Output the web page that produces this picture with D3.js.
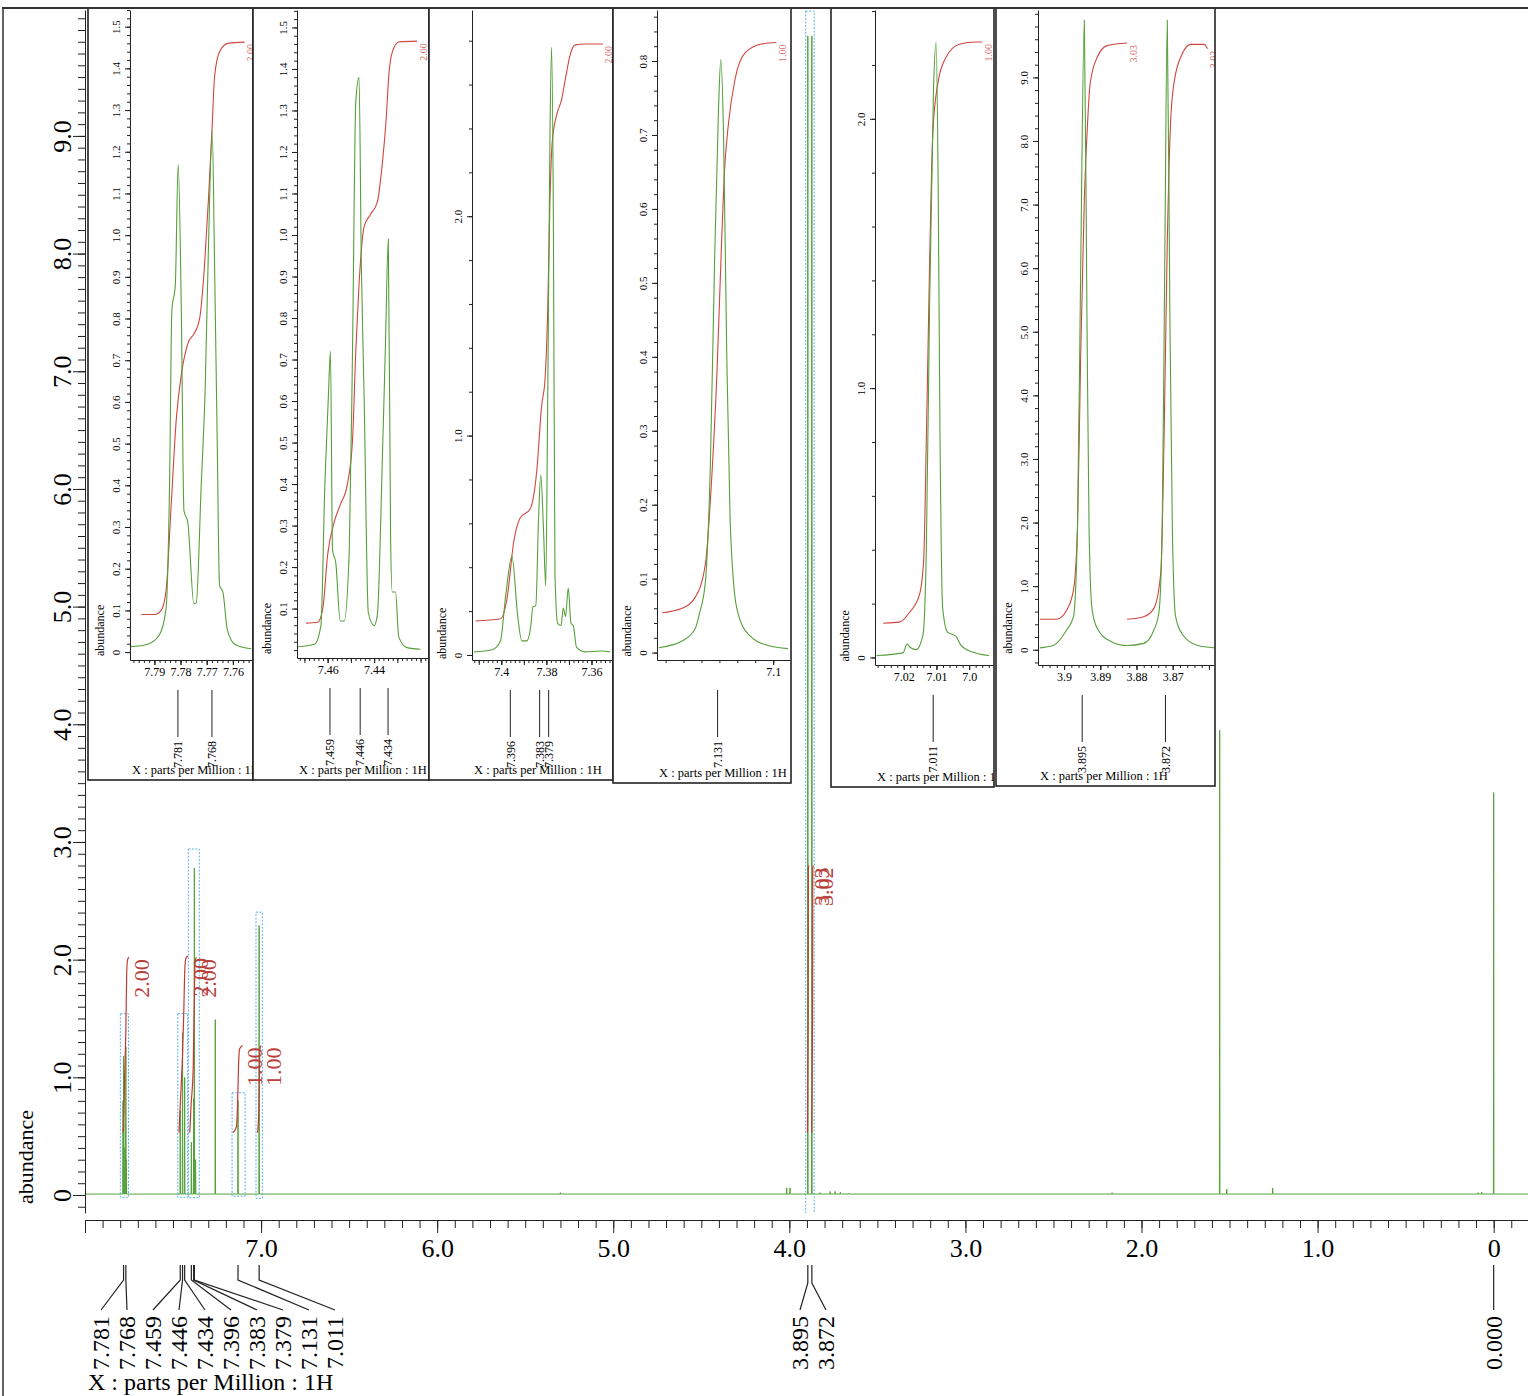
<!DOCTYPE html>
<html>
<head>
<meta charset="utf-8">
<script src="https://cdn.jsdelivr.net/npm/d3@7"></script>
<style>
  body { margin: 0; background: #fff; }
  svg text { font-family: "Liberation Serif", "Times New Roman", serif; }
</style>
</head>
<body>
<svg id="spektrum" width="1528" height="1396"></svg>
<script>
// ---- data ----

// main spectrum peaks: [ppm, abundance]
var mainPeaks = [
  [7.784, 0.80], [7.781, 1.18], [7.778, 0.40], [7.771, 0.60], [7.768, 1.26], [7.765, 0.30],
  [7.459, 0.72], [7.446, 1.38], [7.434, 1.00],
  [7.396, 0.45], [7.383, 0.82], [7.379, 2.78], [7.372, 0.30],
  [7.26, 1.49], [7.131, 0.80], [7.011, 2.29],
  [5.30, 0.02], [4.015, 0.06], [3.996, 0.06],
  [3.895, 9.85], [3.872, 9.85],
  [3.825, 0.02], [3.768, 0.03], [3.74, 0.03], [3.71, 0.025], [3.665, 0.015],
  [2.167, 0.02], [1.556, 3.95], [1.516, 0.05], [1.255, 0.06],
  [0.089, 0.02], [0.068, 0.025], [0.0, 3.42]
];

// main integral curves: [ppm, value]
var mainIntegrals = [
  [[7.785, 0.53], [7.78, 0.60], [7.775, 1.00], [7.768, 1.40], [7.763, 1.90], [7.758, 2.00], [7.75, 2.02]],
  [[7.466, 0.53], [7.458, 0.80], [7.446, 1.20], [7.44, 1.50], [7.432, 1.95], [7.425, 2.02], [7.415, 2.03]],
  [[7.405, 0.53], [7.398, 0.75], [7.385, 1.10], [7.379, 1.70], [7.375, 1.97], [7.368, 2.02]],
  [[7.16, 0.53], [7.14, 0.58], [7.133, 0.80], [7.128, 1.10], [7.122, 1.24], [7.105, 1.27]],
  [[7.02, 0.53], [7.013, 0.70], [7.01, 1.00], [7.007, 1.24], [7.0, 1.27]],
  [[3.897, 0.53], [3.893, 1.50], [3.892, 2.78], [3.889, 2.80]],
  [[3.873, 0.53], [3.868, 1.50], [3.867, 2.78], [3.864, 2.80]]
];
var mainIntegralLabels = ["2.00", "2.00", "2.00", "1.00", "1.00", "3.03", "3.02"];

// peak picking labels under the main axis (grouped)
var peakLabelGroups = [
  ["7.781", "7.768", "7.459", "7.446", "7.434", "7.396", "7.383", "7.379", "7.131", "7.011"],
  ["3.895", "3.872"],
  ["0.000"]
];

// main tick labels
var mainXTicks = [7, 6, 5, 4, 3, 2, 1, 0];
var mainYTicks = [0, 1, 2, 3, 4, 5, 6, 7, 8, 9];

// inset 1 (7.78)
var inset1Spec = [[7.7989,0.013],[7.7925,0.019],[7.788,0.042],[7.7855,0.106],[7.7842,0.40],[7.7833,0.82],[7.782,0.88],
  [7.7809,1.17],[7.7797,0.82],[7.7787,0.34],[7.7772,0.31],[7.7749,0.116],[7.774,0.118],[7.7721,0.40],[7.7706,0.63],
  [7.7693,0.98],[7.7679,1.25],[7.767,0.93],[7.766,0.51],[7.7651,0.16],[7.7638,0.143],[7.7621,0.053],[7.7593,0.019],[7.753,0.008]];
var inset1Int = [[7.795,0.09],[7.7899,0.09],[7.7874,0.10],[7.7855,0.148],[7.7836,0.35],[7.7816,0.56],[7.7797,0.665],
  [7.7772,0.74],[7.7746,0.766],[7.7727,0.80],[7.7708,0.93],[7.7693,1.09],[7.768,1.25],[7.767,1.38],[7.7651,1.44],
  [7.7619,1.46],[7.7555,1.463]];
var inset1XTicks = [7.79, 7.78, 7.77, 7.76];
var inset1YTicks = [0, 0.1, 0.2, 0.3, 0.4, 0.5, 0.6, 0.7, 0.8, 0.9, 1.0, 1.1, 1.2, 1.3, 1.4, 1.5];

// inset 2 (7.45)
var inset2Spec = [[7.4728,0.008],[7.4657,0.014],[7.4629,0.059],[7.4612,0.40],[7.4597,0.61],[7.4588,0.72],[7.4579,0.24],
  [7.4565,0.21],[7.4546,0.07],[7.4529,0.07],[7.4507,0.24],[7.4493,0.72],[7.4479,1.32],[7.4465,1.38],[7.4455,0.93],
  [7.4443,0.61],[7.4425,0.09],[7.44,0.059],[7.4386,0.085],[7.4365,0.45],[7.4351,0.74],[7.4339,0.99],[7.4329,0.27],
  [7.4322,0.14],[7.4308,0.14],[7.4294,0.032],[7.4258,0.006],[7.4201,0.002]];
var inset2Int = [[7.4693,0.065],[7.4643,0.067],[7.4621,0.10],[7.46,0.23],[7.4571,0.31],[7.4546,0.35],[7.4515,0.40],
  [7.4493,0.505],[7.4479,0.72],[7.4465,0.88],[7.4443,1.02],[7.4415,1.05],[7.4386,1.08],[7.4365,1.17],[7.4348,1.28],
  [7.4336,1.39],[7.4322,1.44],[7.4294,1.465],[7.4215,1.467]];
var inset2XTicks = [7.46, 7.44];
var inset2YTicks = [0.1, 0.2, 0.3, 0.4, 0.5, 0.6, 0.7, 0.8, 0.9, 1.0, 1.1, 1.2, 1.3, 1.4, 1.5];

// inset 3 (7.38)
var inset3Spec = [[7.4121,0.014],[7.4041,0.024],[7.4004,0.064],[7.398,0.275],[7.3953,0.45],[7.3927,0.175],[7.3909,0.064],
  [7.3887,0.064],[7.3869,0.134],[7.386,0.219],[7.3847,0.225],[7.3835,0.616],[7.3825,0.82],[7.3813,0.576],[7.3803,0.315],
  [7.3794,1.18],[7.3784,2.38],[7.3777,2.77],[7.3769,1.98],[7.3762,0.375],[7.375,0.144],[7.3735,0.134],[7.3725,0.214],
  [7.3715,0.175],[7.3703,0.305],[7.3691,0.144],[7.3681,0.134],[7.3666,0.034],[7.3629,0.014],[7.3556,0.018],[7.3519,0.014]];
var inset3Int = [[7.4114,0.155],[7.4004,0.165],[7.3975,0.255],[7.3945,0.515],[7.3916,0.625],[7.3872,0.665],[7.3843,0.836],
  [7.3821,1.137],[7.3806,1.258],[7.3794,1.579],[7.3784,2.08],[7.3774,2.34],[7.3755,2.46],[7.3733,2.53],[7.3715,2.63],
  [7.3696,2.73],[7.3674,2.78],[7.3629,2.785],[7.3549,2.785]];
var inset3XTicks = [7.40, 7.38, 7.36];
var inset3YTicks = [0, 1.0, 2.0];

// inset 4 (7.13)
var inset4Spec = [[7.1637,0.0066],[7.1508,0.0156],[7.1434,0.033],[7.1411,0.053],[7.1378,0.096],[7.135,0.257],[7.1327,0.525],
  [7.1305,0.734],[7.1292,0.802],[7.1277,0.704],[7.1259,0.406],[7.124,0.179],[7.1203,0.06],[7.1138,0.0245],[7.1028,0.0096],[7.0917,0.0054]];
var inset4Int = [[7.1618,0.054],[7.1508,0.060],[7.1434,0.075],[7.1378,0.12],[7.1342,0.239],[7.1314,0.376],[7.1292,0.525],
  [7.1273,0.645],[7.1249,0.716],[7.1212,0.776],[7.1157,0.811],[7.1065,0.823],[7.0982,0.825]];
var inset4XTicks = [7.1];
var inset4YTicks = [0, 0.1, 0.2, 0.3, 0.4, 0.5, 0.6, 0.7, 0.8];

// inset 5 (7.01)
var inset5Spec = [[7.0283,0.007],[7.0202,0.017],[7.019,0.05],[7.018,0.037],[7.0162,0.029],[7.0141,0.086],[7.0131,0.40],
  [7.0121,1.30],[7.0109,2.11],[7.0101,2.285],[7.0095,1.79],[7.0089,0.806],[7.0081,0.184],[7.0066,0.094],[7.004,0.078],
  [7.0025,0.045],[6.999,0.02],[6.9939,0.007]];
var inset5Int = [[7.0263,0.127],[7.0212,0.132],[7.0182,0.168],[7.0152,0.233],[7.0139,0.364],[7.0131,0.806],[7.0121,1.46],
  [7.0111,1.95],[7.0096,2.13],[7.0071,2.228],[7.003,2.277],[6.998,2.285],[6.996,2.285]];
var inset5XTicks = [7.02, 7.01, 7.0];
var inset5YTicks = [0, 1.0, 2.0];

// inset 6 (3.9)
var inset6Spec = [[3.9067,0.03],[3.903,0.066],[3.8993,0.31],[3.8974,0.52],[3.8963,1.9],[3.8954,6.06],[3.8944,9.9],
  [3.8937,5.36],[3.8931,1.9],[3.8923,0.65],[3.8909,0.34],[3.8872,0.135],[3.8826,0.066],[3.878,0.10],[3.8752,0.31],
  [3.8738,0.59],[3.8729,1.9],[3.8722,6.06],[3.8715,9.9],[3.8708,5.36],[3.8701,1.9],[3.8692,0.52],[3.8673,0.24],
  [3.8631,0.066],[3.8585,0.03]];
var inset6IntA = [[3.9067,0.48],[3.902,0.48],[3.8993,0.62],[3.8974,0.94],[3.8963,1.9],[3.8954,4.67],[3.8944,7.1],
  [3.8934,8.41],[3.8928,8.9],[3.8909,9.31],[3.8881,9.5],[3.8826,9.54]];
var inset6IntB = [[3.8826,0.48],[3.878,0.52],[3.8752,0.65],[3.8733,1.21],[3.8724,3.29],[3.8715,6.4],[3.8706,8.28],
  [3.8696,8.93],[3.8673,9.38],[3.865,9.52],[3.8613,9.52],[3.8604,9.45]];
var inset6XTicks = [3.9, 3.89, 3.88, 3.87];
var inset6YTicks = [0, 1, 2, 3, 4, 5, 6, 7, 8, 9];

// ---- layout of the insets (boxes, axis ranges) ----
var insets = [
  {box: [88, 253, 780],  left: 130,  right: 252,  axisY: 660, xDom: [7.7993, 7.7527], yDom: [-0.019, 1.54],
   xMinor: 0.002, xMajor: 0.01, yMinor: 0.02, spec: inset1Spec, ints: [inset1Int], intLabels: ["2.00"],
   peaks: ["7.781", "7.768"], xTicks: inset1XTicks, yTicks: inset1YTicks},
  {box: [253, 429, 780], left: 297,  right: 428,  axisY: 658, xDom: [7.4732, 7.4168], yDom: [-0.019, 1.542],
   xMinor: 0.002, xMajor: 0.01, yMinor: 0.02, spec: inset2Spec, ints: [inset2Int], intLabels: ["2.00"],
   peaks: ["7.459", "7.446", "7.434"], xTicks: inset2XTicks, yTicks: inset2YTicks},
  {box: [429, 613, 780], left: 472,  right: 612,  axisY: 660, xDom: [7.413, 7.3509], yDom: [-0.023, 2.94],
   xMinor: 0.002, xMajor: 0.01, yMinor: 0.2, spec: inset3Spec, ints: [inset3Int], intLabels: ["2.00"],
   peaks: ["7.396", "7.383", "7.379"], xTicks: inset3XTicks, yTicks: inset3YTicks},
  {box: [613, 791, 783], left: 657,  right: 790,  axisY: 660, xDom: [7.1648, 7.0906], yDom: [-0.01, 0.869],
   xMinor: 0.01, xMajor: 0.1, yMinor: 0.02, spec: inset4Spec, ints: [inset4Int], intLabels: ["1.00"],
   peaks: ["7.131"], xTicks: inset4XTicks, yTicks: inset4YTicks},
  {box: [831, 994, 787], left: 875,  right: 993,  axisY: 665, xDom: [7.0288, 6.9927], yDom: [-0.028, 2.404],
   xMinor: 0.002, xMajor: 0.01, yMinor: 0.2, spec: inset5Spec, ints: [inset5Int], intLabels: ["1.00"],
   peaks: ["7.011"], xTicks: inset5XTicks, yTicks: inset5YTicks},
  {box: [996, 1215, 786], left: 1038, right: 1214, axisY: 665, xDom: [3.9072, 3.8586], yDom: [-0.24, 10.06],
   xMinor: 0.002, xMajor: 0.01, yMinor: 0.2, spec: inset6Spec, ints: [inset6IntA, inset6IntB], intLabels: ["3.03", "3.02"],
   peaks: ["3.895", "3.872"], xTicks: inset6XTicks, yTicks: inset6YTicks}
];

var green = '#55a03a', red = '#c23b33', blue = '#5ab2e4', ink = '#222';

var svg = d3.select('#spektrum');
var defs = svg.append('defs');

// main scales
var x = d3.scaleLinear().domain([8.0, -0.195]).range([85, 1528]);
var y = d3.scaleLinear().domain([-0.153, 10.07]).range([1213, 10]);

// tick values every step inside a domain
function stepTicks(dom, step) {
  var lo = Math.min(dom[0], dom[1]), hi = Math.max(dom[0], dom[1]);
  return d3.range(Math.ceil(lo / step - 1e-6), Math.floor(hi / step + 1e-6) + 1).map(function(i) {
    return +(i * step).toFixed(6);
  });
}
function fmtY(d) { return d === 0 ? '0' : d.toFixed(1); }
function fmtPpm(d) {
  var s = d.toFixed(2);
  return s.charAt(s.length - 1) === '0' ? s.slice(0, -1) : s;
}

defs.append('clipPath').attr('id', 'mainClip')
  .append('rect').attr('x', 85).attr('y', 10).attr('width', 1443).attr('height', 1203);

var main = svg.append('g').attr('clip-path', 'url(#mainClip)');

// spectrum as thin spikes on a baseline
var base = 0.008, w = 0.0015;
var pts = [[8.0, base]];
mainPeaks.slice().sort(function(a, b) { return b[0] - a[0]; }).forEach(function(p) {
  pts.push([p[0] + w, base], [p[0], p[1]], [p[0] - w, base]);
});
pts.push([-0.195, base]);

var mainLine = d3.line().x(function(d) { return x(d[0]); }).y(function(d) { return y(d[1]); });

main.append('path')
  .datum(pts)
  .attr('d', mainLine)
  .attr('fill', 'none')
  .attr('stroke', green)
  .attr('stroke-width', 1);

// integration boxes (same ranges as the insets)
main.selectAll('.ibox')
  .data(insets)
  .enter()
    .append('rect')
    .classed('ibox', true)
    .attr('x', function(c) { return x(c.xDom[0]); })
    .attr('y', function(c) { return y(c.yDom[1]); })
    .attr('width', function(c) { return x(c.xDom[1]) - x(c.xDom[0]); })
    .attr('height', function(c) { return y(c.yDom[0]) - y(c.yDom[1]); })
    .attr('fill', 'none')
    .attr('stroke', blue)
    .attr('stroke-width', 1)
    .attr('stroke-dasharray', '2,1.5');

// integral curves
main.selectAll('.integral')
  .data(mainIntegrals)
  .enter()
    .append('path')
    .classed('integral', true)
    .attr('d', mainLine.curve(d3.curveMonotoneX))
    .attr('fill', 'none')
    .attr('stroke', red)
    .attr('stroke-width', 1.2);

main.selectAll('.intlabel')
  .data(mainIntegrals)
  .enter()
    .append('text')
    .classed('intlabel', true)
    .attr('transform', function(d) {
      var last = d[d.length - 1];
      return 'translate(' + (x(last[0]) + 12) + ',' + (y(last[1]) + 2) + ') rotate(-90)';
    })
    .attr('dy', '0.35em')
    .attr('text-anchor', 'end')
    .attr('font-size', 22)
    .attr('fill', '#b8403a')
    .text(function(d, i) { return mainIntegralLabels[i]; });

// ---- main axes ----
var yAxisG = svg.append('g').attr('transform', 'translate(85,0)');
yAxisG.append('g')
  .call(d3.axisLeft(y).tickValues(stepTicks(y.domain(), 0.1)).tickSize(7).tickSizeOuter(0).tickFormat(''));
var yMajor = yAxisG.append('g')
  .call(d3.axisLeft(y).tickValues(mainYTicks).tickSize(12).tickFormat(fmtY));
yMajor.select('.domain').remove();
yMajor.selectAll('text')
  .attr('x', 0).attr('y', 0)
  .attr('dy', '0.35em')
  .attr('text-anchor', 'middle')
  .attr('transform', 'translate(-23,0) rotate(-90)')
  .attr('font-size', 26)
  .attr('font-family', '"Liberation Serif", serif');

var xAxisG = svg.append('g').attr('transform', 'translate(0,1220)');
xAxisG.append('g')
  .call(d3.axisBottom(x).tickValues(stepTicks(x.domain(), 0.1)).tickSize(8).tickSizeOuter(0).tickFormat(''));
var xMajor = xAxisG.append('g')
  .call(d3.axisBottom(x).tickValues(stepTicks(x.domain(), 1)).tickSize(13).tickPadding(6)
    .tickFormat(function(d) { return mainXTicks.indexOf(d) < 0 ? '' : (d === 0 ? '0' : d.toFixed(1)); }));
xMajor.select('.domain').remove();
xMajor.selectAll('text')
  .attr('font-size', 26)
  .attr('font-family', '"Liberation Serif", serif');
svg.selectAll('.tick line, .domain').attr('stroke', ink);

svg.append('text')
  .attr('transform', 'translate(25,1157) rotate(-90)')
  .attr('dy', '0.35em')
  .attr('text-anchor', 'middle')
  .attr('font-size', 22)
  .text('abundance');

svg.append('text')
  .attr('x', 88).attr('y', 1390)
  .attr('font-size', 24)
  .text('X : parts per Million : 1H');

// peak picking labels
var groupStart = [101, 800, x(0)];
peakLabelGroups.forEach(function(group, gi) {
  var knee = gi === 1 ? 1283 : 1280;
  group.forEach(function(lbl, i) {
    var px = x(+lbl), lx = groupStart[gi] + i * 26;
    svg.append('path')
      .attr('d', 'M' + px + ',1265V' + knee + 'L' + lx + ',1310')
      .attr('fill', 'none')
      .attr('stroke', ink)
      .attr('stroke-width', 1.2);
    svg.append('text')
      .attr('transform', 'translate(' + lx + ',1316) rotate(-90)')
      .attr('dy', '0.35em')
      .attr('text-anchor', 'end')
      .attr('font-size', 24)
      .text(lbl);
  });
});

// ---- insets ----
insets.forEach(function(c, i) {
  var bx0 = c.box[0], bx1 = c.box[1], by1 = c.box[2];
  var ix = d3.scaleLinear().domain(c.xDom).range([c.left, c.right]);
  var iy = d3.scaleLinear().domain(c.yDom).range([c.axisY, 10]);

  defs.append('clipPath').attr('id', 'box' + i)
    .append('rect').attr('x', bx0).attr('y', 8).attr('width', bx1 - bx0).attr('height', by1 - 8);
  defs.append('clipPath').attr('id', 'plot' + i)
    .append('rect').attr('x', c.left).attr('y', 10).attr('width', c.right - c.left).attr('height', c.axisY - 10);

  var g = svg.append('g');
  g.append('rect')
    .attr('x', bx0).attr('y', 8)
    .attr('width', bx1 - bx0).attr('height', by1 - 8)
    .attr('fill', '#fff');

  var inner = g.append('g').attr('clip-path', 'url(#box' + i + ')');
  var plot = inner.append('g').attr('clip-path', 'url(#plot' + i + ')');

  var line = d3.line()
    .x(function(d) { return ix(d[0]); })
    .y(function(d) { return iy(d[1]); })
    .curve(d3.curveMonotoneX);

  plot.selectAll('.int')
    .data(c.ints)
    .enter()
      .append('path')
      .attr('d', line)
      .attr('fill', 'none')
      .attr('stroke', '#d0463f')
      .attr('stroke-width', 1.1);

  plot.append('path')
    .datum(c.spec)
    .attr('d', line)
    .attr('fill', 'none')
    .attr('stroke', green)
    .attr('stroke-width', 1.1);

  // integral values
  inner.selectAll('.ilab')
    .data(c.ints)
    .enter()
      .append('text')
      .attr('transform', function(d) {
        var last = d[d.length - 1];
        return 'translate(' + (ix(last[0]) + 6) + ',' + (iy(last[1]) + 2) + ') rotate(-90)';
      })
      .attr('dy', '0.35em')
      .attr('text-anchor', 'end')
      .attr('font-size', 10)
      .attr('fill', '#d66a66')
      .text(function(d, k) { return c.intLabels[k]; });

  // x axis
  var xg = inner.append('g').attr('transform', 'translate(0,' + c.axisY + ')');
  xg.append('g').call(d3.axisBottom(ix).tickValues(stepTicks(c.xDom, c.xMinor)).tickSize(3).tickSizeOuter(0).tickFormat(''));
  xg.append('g').call(d3.axisBottom(ix).tickValues(stepTicks(c.xDom, c.xMajor)).tickSize(5).tickSizeOuter(0).tickFormat(''))
    .select('.domain').remove();
  var xl = xg.append('g').call(d3.axisBottom(ix).tickValues(c.xTicks).tickSize(5).tickPadding(2).tickFormat(fmtPpm));
  xl.select('.domain').remove();
  xl.selectAll('text').attr('font-size', 12).attr('font-family', '"Liberation Serif", serif');

  // y axis
  var yg = inner.append('g').attr('transform', 'translate(' + c.left + ',0)');
  yg.append('g').call(d3.axisLeft(iy).tickValues(stepTicks(c.yDom, c.yMinor)).tickSize(3).tickSizeOuter(0).tickFormat(''));
  var yl = yg.append('g').call(d3.axisLeft(iy).tickValues(c.yTicks).tickSize(5).tickFormat(fmtY));
  yl.select('.domain').remove();
  yl.selectAll('text')
    .attr('x', 0).attr('y', 0)
    .attr('dy', '0.35em')
    .attr('text-anchor', 'middle')
    .attr('transform', 'translate(-14,0) rotate(-90)')
    .attr('font-size', 11)
    .attr('font-family', '"Liberation Serif", serif');

  inner.append('text')
    .attr('transform', 'translate(' + (c.left - 30) + ',' + (iy(0) + 4) + ') rotate(-90)')
    .attr('dy', '0.35em')
    .attr('font-size', 12)
    .text('abundance');

  // peak positions
  c.peaks.forEach(function(lbl) {
    var px = ix(+lbl);
    inner.append('line')
      .attr('x1', px).attr('x2', px)
      .attr('y1', c.axisY + 30).attr('y2', c.axisY + 77)
      .attr('stroke', ink);
    inner.append('text')
      .attr('transform', 'translate(' + px + ',' + (c.axisY + 81) + ') rotate(-90)')
      .attr('dy', '0.35em')
      .attr('text-anchor', 'end')
      .attr('font-size', 12)
      .text(lbl);
  });

  inner.append('text')
    .attr('x', c.left + 2).attr('y', by1 - 6)
    .attr('font-size', 12.5)
    .text('X : parts per Million : 1H');

  g.selectAll('.tick line, .domain').attr('stroke', ink);

  g.append('rect')
    .attr('x', bx0).attr('y', 8)
    .attr('width', bx1 - bx0).attr('height', by1 - 8)
    .attr('fill', 'none')
    .attr('stroke', ink)
    .attr('stroke-width', 1.6);
});

// page frame
svg.append('line').attr('x1', 2).attr('x2', 1528).attr('y1', 8).attr('y2', 8).attr('stroke', '#333').attr('stroke-width', 2);
svg.append('line').attr('x1', 3).attr('x2', 3).attr('y1', 8).attr('y2', 1396).attr('stroke', '#333').attr('stroke-width', 1.5);
</script>
</body>
</html>
